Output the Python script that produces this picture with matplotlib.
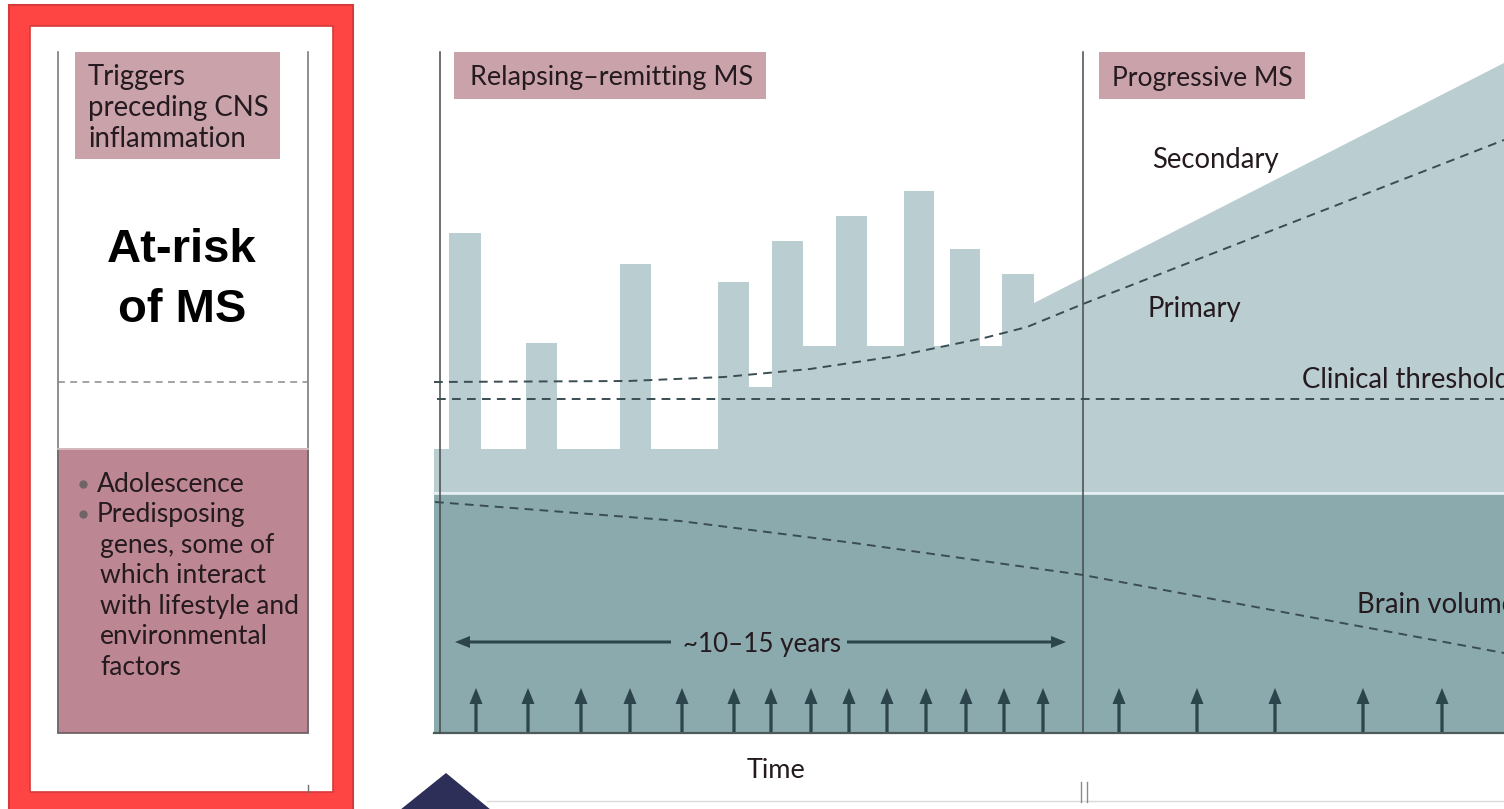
import matplotlib.pyplot as plt
from matplotlib.patches import Rectangle, Polygon

plt.rcParams['font.family'] = ['Lato', 'DejaVu Sans']

# canvas size in px (1 data unit = 1 px)
W, H = 1504, 809

# relapse bars in the relapsing-remitting phase
bar_x0 = [449, 526, 620, 718, 772, 836, 904, 950, 1002]
bar_x1 = [481, 557, 651, 749, 803, 867, 934, 980, 1034]
bar_top = [233, 343, 264, 282, 241, 216, 191, 249, 274]
gap_level = [449, 449, 449, 387, 346, 346, 346, 346, 303]  # level after each bar
base_level = 449
ramp_end = (1504, 63)   # secondary progressive envelope end

# primary progressive dashed curve
primary_x = [434, 628, 724, 810, 897, 984, 1027, 1083, 1504]
primary_y = [382, 381, 377, 369, 356, 338, 327, 304, 140]
# brain volume dashed curve
brain_x = [435, 680, 854, 1083, 1504]
brain_y = [502, 521, 543, 575, 653]
threshold_y = 399

# relapse arrows along the time axis
arrow_rr = [476, 528, 581, 630, 682, 734, 771, 811, 849, 887, 926, 966, 1004, 1043]
arrow_pr = [1119, 1197, 1275, 1363, 1442]

trigger_lines = ['Triggers', 'preceding CNS', 'inflammation']
risk_lines = ['At-risk', 'of MS']
bullet_lines = [('•', 'Adolescence'), ('•', 'Predisposing'), ('', 'genes, some of'),
                ('', 'which interact'), ('', 'with lifestyle and'),
                ('', 'environmental'), ('', 'factors')]

# colours
red = '#FF4444'
pink = '#C9A2AA'
pink_dark = '#BC8792'
teal_light = '#BACDD1'
teal_dark = '#8BAAAD'
ink = '#241A1F'
dash_col = '#3A4D53'
arrow_col = '#2C444B'

fig = plt.figure(figsize=(15.04, 8.09), dpi=100)
ax = fig.add_axes([0, 0, 1, 1])
ax.set_xlim(0, W)
ax.set_ylim(H, 0)
ax.axis('off')

px = 0.72  # px -> pt at 100 dpi

# ---- left panel ----
ax.add_patch(Rectangle((9, 5), 344, 810, fc=red, ec='#D63A3A', lw=1.5))
ax.add_patch(Rectangle((30, 26), 303, 766, fc='white', ec='#D63A3A', lw=1.2))
for x in (58, 308):
    ax.plot([x, x], [52, 733], color='#707070', lw=1.1)
ax.plot([308, 308], [785, 792], color='#707070', lw=1)
ax.add_patch(Rectangle((75, 52), 205, 107, fc=pink, ec='none'))
for i, line in enumerate(trigger_lines):
    ax.text(88, 85 + i * 31, line, fontsize=27.5 * px, color=ink, va='baseline', ha='left')
for i, line in enumerate(risk_lines):
    ax.text(182, 262 + i * 60, line, fontsize=34, fontweight='bold', family='Liberation Sans',
            color='black', va='baseline', ha='center')
ax.plot([58, 308], [382, 382], color='#8A8A8A', lw=1.1, dashes=(4.5, 3.5))
ax.add_patch(Rectangle((58, 449), 250, 284, fc=pink_dark, ec='#6B5960', lw=1.2))
ax.plot([58, 308], [449, 449], color='#E2C9CE', lw=1.2)
for i, (b, line) in enumerate(bullet_lines):
    y = 491.5 + i * 30.6
    if b:
        ax.plot(83, y - 8, 'o', ms=5, color='#6F6467')
        ax.text(97, y, line, fontsize=26.5 * px, color=ink, va='baseline', ha='left')
    else:
        ax.text(100, y, line, fontsize=26.5 * px, color=ink, va='baseline', ha='left')

# ---- main panel ----
ax.add_patch(Rectangle((434, 493), W - 434, 240, fc=teal_dark, ec='none'))
verts = [(434, base_level)]
for x0, x1, top, gap in zip(bar_x0, bar_x1, bar_top, gap_level):
    verts += [(x0, verts[-1][1]), (x0, top), (x1, top), (x1, gap)]
verts += [ramp_end, (W, 492), (434, 492)]
ax.add_patch(Polygon(verts, closed=True, fc=teal_light, ec='none'))
ax.plot([434, W], [492.5, 492.5], color='#E3EEF0', lw=2)
ax.plot([434, W], [733, 733], color='#4F5A5C', lw=1.6)
for x in (440, 1083):
    ax.plot([x, x], [52, 733], color='#454A4C', lw=1.1)

ax.plot([437, W], [threshold_y, threshold_y], color=dash_col, lw=1.4, dashes=(4.5, 3.2))
ax.plot(primary_x, primary_y, color=dash_col, lw=1.4, dashes=(4.5, 3.2))
ax.plot(brain_x, brain_y, color=dash_col, lw=1.4, dashes=(4.5, 3.2))

for x in arrow_rr + arrow_pr:
    ax.arrow(x, 733, 0, -45, width=3.2, head_width=13, head_length=16,
             length_includes_head=True, color=arrow_col, lw=0)

# ~10-15 years span arrow
ax.arrow(671, 642, 455 - 671, 0, width=3, head_width=12, head_length=15,
         length_includes_head=True, color=arrow_col, lw=0)
ax.arrow(847, 642, 1066 - 847, 0, width=3, head_width=12, head_length=15,
         length_includes_head=True, color=arrow_col, lw=0)
ax.text(762, 652, '~10–15 years', fontsize=26 * px, color=ink, ha='center', va='baseline')

# phase labels
ax.add_patch(Rectangle((454, 52), 312, 47, fc=pink, ec='none'))
ax.text(470, 85, 'Relapsing–remitting MS', fontsize=27 * px, color=ink, va='baseline')
ax.add_patch(Rectangle((1099, 52), 206, 47, fc=pink, ec='none'))
ax.text(1112, 85.5, 'Progressive MS', fontsize=26.5 * px, color=ink, va='baseline')

ax.text(1152, 168, 'Secondary', fontsize=27.5 * px, color=ink, va='baseline')
ax.text(1147, 317, 'Primary', fontsize=27.5 * px, color=ink, va='baseline')
ax.text(1302, 388, 'Clinical threshold', fontsize=27.5 * px, color=ink, va='baseline')
ax.text(1357, 613, 'Brain volume', fontsize=27.5 * px, color=ink, va='baseline')
ax.text(776, 778, 'Time', fontsize=27 * px, color=ink, ha='center', va='baseline')

# bottom decorations
ax.plot([487, W], [801, 801], color='#DADADA', lw=1)
for x in (1081, 1087):
    ax.plot([x, x], [782, 802], color='#8A8A8A', lw=1)
ax.add_patch(Polygon([(400, 810), (446, 773), (491, 810)], closed=True,
                     fc='#2E2F58', ec='none'))

fig.savefig('out.png', dpi=100)
